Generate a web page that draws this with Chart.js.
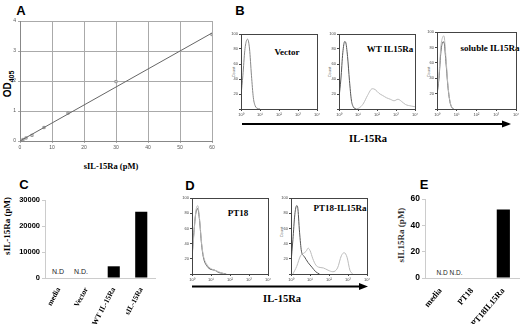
<!DOCTYPE html>
<html>
<head>
<meta charset="utf-8">
<script src="https://cdn.jsdelivr.net/npm/chart.js@4"></script>
<style>
body { margin: 0; background: #fff; }
#fig { position: relative; width: 520px; height: 324px; overflow: hidden; }
#fig canvas { position: absolute; }
.t { position: absolute; white-space: nowrap; transform: translate(-50%, -50%); line-height: 1; }
.letter { font: bold 13px "Liberation Sans", Arial, sans-serif; color: #000; }
.serif { font-family: "Liberation Serif", "Times New Roman", serif; font-weight: bold; color: #000; }
.rot { transform: translate(-50%, -50%) rotate(-90deg); }
.count { font: 4px "Liberation Sans", Arial, sans-serif; color: #666; }
.nd { font: 7px "Liberation Sans", Arial, sans-serif; color: #222; }
</style>
</head>
<body>
<div id="fig">
  <svg width="520" height="324" style="position:absolute;left:0;top:0">
    <line x1="242" y1="124" x2="503" y2="124" stroke="#000" stroke-width="2"/>
    <polygon points="502,120.5 511,124 502,127.5" fill="#000"/>
    <line x1="192" y1="286.5" x2="360" y2="286.5" stroke="#000" stroke-width="2"/>
    <polygon points="359,283 368,286.5 359,290" fill="#000"/>
  </svg>

  <div class="t letter" style="left:21px;top:10px">A</div>
  <div class="t letter" style="left:240px;top:10px">B</div>
  <div class="t letter" style="left:24px;top:184px">C</div>
  <div class="t letter" style="left:190px;top:185px">D</div>
  <div class="t letter" style="left:424px;top:184px">E</div>

  <div class="t rot" style="left:8px;top:84px;font:bold 10px 'Liberation Sans',Arial,sans-serif">OD<sub style="font-size:7px">405</sub></div>
  <div class="t serif" style="left:111px;top:166px;font-size:8.5px">sIL-15Ra (pM)</div>

  <div class="t serif" style="left:287px;top:52px;font-size:9px">Vector</div>
  <div class="t serif" style="left:390px;top:49px;font-size:9px">WT IL15Ra</div>
  <div class="t serif" style="left:490px;top:48px;font-size:9px">soluble IL15Ra</div>
  <div class="t serif" style="left:368px;top:139px;font-size:10.5px">IL-15Ra</div>
  <div class="t rot count" style="left:233px;top:72px">Count</div>
  <div class="t rot count" style="left:329px;top:72px">Count</div>
  <div class="t rot count" style="left:428px;top:72px">Count</div>

  <div class="t serif" style="left:238px;top:213px;font-size:9px">PT18</div>
  <div class="t serif" style="left:340px;top:208px;font-size:9px">PT18-IL15Ra</div>
  <div class="t serif" style="left:282px;top:299px;font-size:10.5px">IL-15Ra</div>
  <div class="t rot count" style="left:281px;top:232px">Count</div>

  <div class="t rot serif" style="left:7px;top:226px;font-size:9px">sIL-15Ra (pM)</div>
  <div class="t nd" style="left:58px;top:271px">N.D</div>
  <div class="t nd" style="left:81px;top:271px">N.D.</div>

  <div class="t rot serif" style="left:401px;top:235px;font-size:9px;color:#333">sIL15Ra (pM)</div>
  <div class="t nd" style="left:442px;top:272px;font-size:6.5px">N.D</div>
  <div class="t nd" style="left:456px;top:272px;font-size:6.5px">N.D.</div>
</div>

<script>
// Panel A - standard curve (OD405 vs sIL-15Ra pM)
const stdConc = [0, 0.94, 1.875, 3.75, 7.5, 15, 30, 60];
const stdOD = [0, 0.05, 0.1, 0.19, 0.45, 0.93, 1.98, 3.55];
const fitConc = [0, 60];
const fitOD = [0, 3.6];

// Panel B / D - flow histograms, x in log decades (10^0 .. 10^4), y = count
const vecX = [0, 0.1, 0.2, 0.3, 0.35, 0.45, 0.55, 0.65, 0.75, 0.85, 1.0];
const vecY = [18, 45, 78, 92, 93, 80, 45, 15, 4, 1, 0];

const wtCtlX = [0, 0.1, 0.2, 0.3, 0.35, 0.45, 0.55, 0.65, 0.75, 0.9];
const wtCtlY = [15, 40, 75, 90, 89, 70, 38, 12, 3, 0];
const wtX = [0.9, 1.1, 1.3, 1.5, 1.75, 1.9, 2.1, 2.3, 2.5, 2.7, 2.9, 3.1, 3.3, 3.5, 3.8, 4.0];
const wtY = [0, 2, 8, 18, 27, 26, 21, 18, 15, 13, 11, 13, 10, 6, 4, 3];

const solCtlX = [0, 0.1, 0.2, 0.3, 0.35, 0.45, 0.55, 0.65, 0.75, 0.85];
const solCtlY = [18, 40, 75, 87, 87, 62, 30, 10, 2, 0];
const solX = [0, 0.1, 0.2, 0.3, 0.35, 0.45, 0.55, 0.65, 0.75, 0.85];
const solY = [20, 45, 82, 94, 95, 68, 32, 11, 2, 0];

const pt18CtlX = [0, 0.1, 0.2, 0.3, 0.4, 0.5, 0.6, 0.8, 1.0, 1.2, 1.4, 1.6, 1.8];
const pt18CtlY = [22, 55, 80, 86, 70, 40, 22, 10, 6, 5, 2, 1, 0];
const pt18X = [0, 0.1, 0.2, 0.3, 0.4, 0.5, 0.6, 0.8, 1.0, 1.2, 1.4, 1.6, 1.8];
const pt18Y = [20, 52, 82, 90, 72, 42, 24, 12, 7, 5, 3, 1, 0];

const ptRaCtlX = [0, 0.1, 0.2, 0.3, 0.35, 0.45, 0.55, 0.7, 0.9, 1.1, 1.3, 1.5];
const ptRaCtlY = [15, 45, 78, 90, 88, 55, 30, 23, 15, 9, 3, 0];
const ptRaX = [0.1, 0.3, 0.5, 0.65, 0.8, 0.9, 1.0, 1.15, 1.3, 1.45, 1.7, 1.95, 2.2, 2.45, 2.65, 2.8, 2.95, 3.1, 3.25];
const ptRaY = [0, 10, 24, 27, 30, 34, 31, 20, 12, 9, 8, 5, 3, 8, 24, 28, 22, 5, 0];

// Panel C - sIL-15Ra in supernatant (pM)
const cLabels = ['media', 'Vector', 'WT IL-15Ra', 'sIL-15Ra'];
const cValues = [null, null, 4500, 25500];

// Panel E
const eLabels = ['media', 'PT18', 'PT18IL15Ra'];
const eValues = [null, null, 52];

const SUP = ['\u2070', '\u00b9', '\u00b2', '\u00b3', '\u2074'];
const DARK = '#555';
const LIGHT = '#bbb';

Chart.defaults.animation = false;
Chart.defaults.font.family = '"Liberation Sans", Arial, sans-serif';
Chart.defaults.plugins.legend.display = false;
Chart.defaults.plugins.tooltip.enabled = false;

const fig = document.getElementById('fig');

// box round the plot area of the histograms
const frame = {
    id: 'frame',
    afterDraw(chart) {
        const a = chart.chartArea, ctx = chart.ctx;
        ctx.save();
        ctx.strokeStyle = '#444';
        ctx.lineWidth = 1;
        ctx.strokeRect(Math.round(a.left) + 0.5, Math.round(a.top) + 0.5,
            Math.round(a.right - a.left), Math.round(a.bottom - a.top));
        ctx.restore();
    }
};

// canvas placed so that the plot area lands on p (page coords)
function makeCanvas(p, yW, xH, padT, padR) {
    const c = document.createElement('canvas');
    const w = (p.r - p.l) + yW + padR;
    const h = (p.b - p.t) + padT + xH;
    c.width = w; c.height = h;
    c.style.width = w + 'px'; c.style.height = h + 'px';
    c.style.left = (p.l - yW) + 'px';
    c.style.top = (p.t - padT) + 'px';
    fig.appendChild(c);
    return { canvas: c, layout: { padding: { top: padT, right: padR, left: 0, bottom: 0 } } };
}

function histogram(p, curves) {
    const yW = 17, xH = 14;
    const { canvas, layout } = makeCanvas(p, yW, xH, 8, 6);
    new Chart(canvas, {
        type: 'line',
        data: {
            datasets: curves.map(cv => ({
                data: cv.x.map((x, i) => ({ x: x, y: cv.y[i] })),
                borderColor: cv.color,
                borderWidth: 1,
                pointRadius: 0,
                cubicInterpolationMode: 'monotone',
                fill: false
            }))
        },
        options: {
            responsive: false,
            layout: layout,
            scales: {
                x: {
                    type: 'linear', min: 0, max: 4,
                    afterFit: s => { s.height = xH; },
                    grid: { drawOnChartArea: false, tickLength: 2, color: '#444' },
                    border: { color: '#444' },
                    ticks: { stepSize: 1, padding: 1, maxRotation: 0, autoSkip: false,
                        font: { size: 4 }, color: '#444', callback: v => '10' + SUP[v] }
                },
                y: {
                    min: 0, max: 100,
                    afterFit: s => { s.width = yW; },
                    grid: { drawOnChartArea: false, tickLength: 2, color: '#444' },
                    border: { color: '#444' },
                    ticks: { stepSize: 20, padding: 1, font: { size: 4 }, color: '#444',
                        callback: v => v === 0 ? '' : v }
                }
            }
        },
        plugins: [frame]
    });
}

// ---- A ----
(function () {
    const yW = 20, xH = 13;
    const { canvas, layout } = makeCanvas({ l: 20, t: 21, r: 212, b: 141 }, yW, xH, 8, 8);
    new Chart(canvas, {
        type: 'scatter',
        data: {
            datasets: [
                {
                    data: fitConc.map((x, i) => ({ x: x, y: fitOD[i] })),
                    showLine: true, borderColor: '#666', borderWidth: 1, pointRadius: 0
                },
                {
                    data: stdConc.map((x, i) => ({ x: x, y: stdOD[i] })),
                    pointStyle: 'rect', pointRadius: 1.6, borderWidth: 0.8,
                    borderColor: '#888', backgroundColor: '#ddd'
                }
            ]
        },
        options: {
            responsive: false,
            layout: layout,
            scales: {
                x: {
                    min: 0, max: 60,
                    afterFit: s => { s.height = xH; },
                    grid: { color: '#aaa', tickLength: 2 },
                    border: { color: '#888' },
                    ticks: { stepSize: 10, padding: 2, font: { size: 5 }, color: '#555', maxRotation: 0 }
                },
                y: {
                    min: 0, max: 4,
                    afterFit: s => { s.width = yW; },
                    grid: { color: '#aaa', tickLength: 2 },
                    border: { color: '#888' },
                    ticks: { stepSize: 1, padding: 2, font: { size: 5 }, color: '#555' }
                }
            }
        }
    });
})();

// ---- B ----
histogram({ l: 241, t: 34, r: 317, b: 109 }, [
    { x: vecX, y: vecY, color: '#888' }
]);
histogram({ l: 339, t: 34, r: 415, b: 109 }, [
    { x: wtX, y: wtY, color: LIGHT },
    { x: wtCtlX, y: wtCtlY, color: DARK }
]);
histogram({ l: 437, t: 32, r: 516, b: 109 }, [
    { x: solX, y: solY, color: LIGHT },
    { x: solCtlX, y: solCtlY, color: DARK }
]);

// ---- D ----
histogram({ l: 192, t: 198, r: 268, b: 274 }, [
    { x: pt18X, y: pt18Y, color: LIGHT },
    { x: pt18CtlX, y: pt18CtlY, color: DARK }
]);
histogram({ l: 291, t: 198, r: 367, b: 274 }, [
    { x: ptRaX, y: ptRaY, color: LIGHT },
    { x: ptRaCtlX, y: ptRaCtlY, color: DARK }
]);

// ---- C and E bar charts ----
function barChart(p, labels, values, yMax, yStep, tickSize, barPct, rot, catSize) {
    const yW = p.l - p.cl, xH = 324 - p.b;
    const { canvas, layout } = makeCanvas(p, yW, xH, p.t - 176, 1);
    new Chart(canvas, {
        type: 'bar',
        data: {
            labels: labels,
            datasets: [{ data: values, backgroundColor: '#000', borderWidth: 0,
                categoryPercentage: 1, barPercentage: barPct }]
        },
        options: {
            responsive: false,
            layout: layout,
            scales: {
                x: {
                    afterFit: s => { s.height = xH; },
                    grid: { display: false },
                    border: { color: '#ccc' },
                    ticks: { minRotation: rot, maxRotation: rot, autoSkip: false, padding: 0,
                        color: '#000',
                        font: { family: '"Liberation Serif", "Times New Roman", serif', weight: 'bold', size: catSize } }
                },
                y: {
                    min: 0, max: yMax,
                    afterFit: s => { s.width = yW; },
                    grid: { drawOnChartArea: false, tickLength: 3, color: '#ccc' },
                    border: { color: '#ccc' },
                    ticks: { stepSize: yStep, padding: 2, color: '#000',
                        font: { weight: 'bold', size: tickSize },
                        callback: v => String(v) }
                }
            }
        }
    });
}

barChart({ cl: 0, l: 45, t: 200, r: 155, b: 278 }, cLabels, cValues, 30000, 10000, 7.5, 0.44, 62, 7.5);
barChart({ cl: 380, l: 425, t: 199, r: 519, b: 278 }, eLabels, eValues, 60, 20, 8.5, 0.42, 50, 8.5);
</script>
</body>
</html>
